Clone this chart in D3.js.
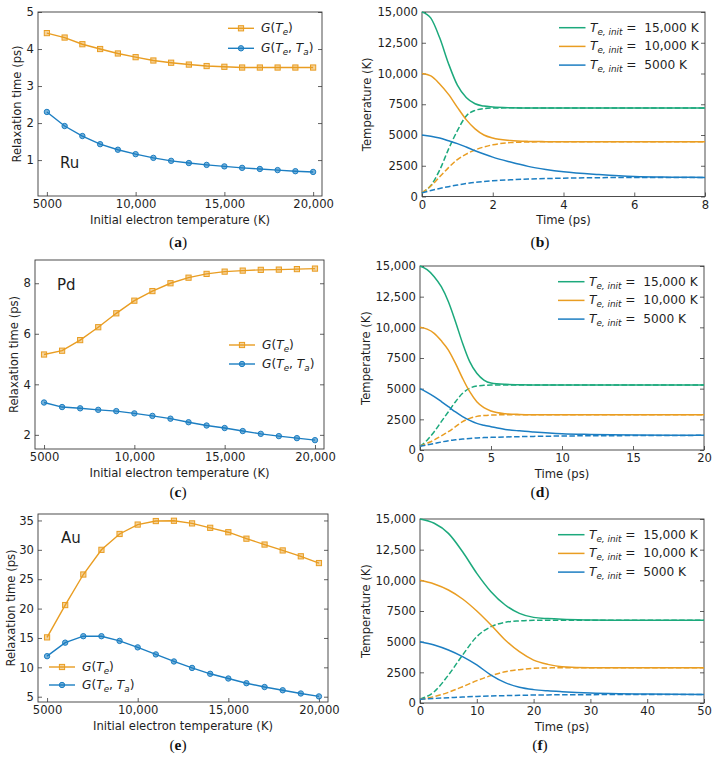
<!DOCTYPE html>
<html>
<head>
<meta charset="utf-8">
<script src="https://cdn.jsdelivr.net/npm/d3@7"></script>
<style>
  html, body { margin: 0; padding: 0; background: #fff; overflow: hidden; }
  svg { display: block; }
</style>
</head>
<body>
<script>
// ---------------- DATA ----------------
const initTemps = [5000, 6000, 7000, 8000, 9000, 10000, 11000, 12000, 13000, 14000, 15000, 16000, 17000, 18000, 19000, 20000];

const ruGTe   = [4.43, 4.31, 4.13, 4.00, 3.88, 3.78, 3.69, 3.63, 3.58, 3.54, 3.52, 3.50, 3.50, 3.50, 3.50, 3.50];
const ruGTeTa = [2.30, 1.92, 1.65, 1.43, 1.28, 1.16, 1.06, 0.98, 0.92, 0.87, 0.83, 0.79, 0.76, 0.73, 0.70, 0.68];
const pdGTe   = [5.18, 5.33, 5.75, 6.26, 6.81, 7.31, 7.69, 8.00, 8.22, 8.37, 8.46, 8.50, 8.53, 8.54, 8.56, 8.58];
const pdGTeTa = [3.28, 3.10, 3.05, 2.99, 2.94, 2.85, 2.75, 2.64, 2.50, 2.37, 2.27, 2.15, 2.04, 1.95, 1.87, 1.79];
const auGTe   = [15.1, 20.6, 25.8, 30.0, 32.7, 34.3, 34.9, 34.95, 34.5, 33.75, 33.0, 31.9, 30.9, 29.9, 28.9, 27.75];
const auGTeTa = [11.9, 14.2, 15.3, 15.3, 14.5, 13.4, 12.2, 11.0, 9.9, 8.9, 8.1, 7.3, 6.65, 6.1, 5.55, 5.05];

// Ru temperature evolution (panel b)
const ruTime    = [0, 0.25, 0.5, 0.75, 1, 1.25, 1.5, 1.75, 2, 2.5, 3, 3.5, 4, 5, 6, 7, 8];
const ruTe15000 = [15000, 14500, 12900, 10800, 9050, 8050, 7540, 7350, 7280, 7220, 7200, 7200, 7200, 7200, 7200, 7200, 7200];
const ruTa15000 = [300, 900, 2150, 3850, 5350, 6550, 7000, 7150, 7190, 7210, 7200, 7200, 7200, 7200, 7200, 7200, 7200];
const ruTe10000 = [10000, 9800, 9150, 8300, 7250, 6250, 5500, 5000, 4750, 4550, 4480, 4460, 4450, 4450, 4450, 4450, 4450];
const ruTa10000 = [300, 850, 1600, 2350, 3000, 3450, 3780, 4030, 4200, 4380, 4430, 4450, 4450, 4450, 4450, 4450, 4450];
const ruTe5000  = [5000, 4900, 4750, 4530, 4300, 4020, 3720, 3450, 3200, 2800, 2450, 2200, 2010, 1780, 1620, 1570, 1550];
const ruTa5000  = [300, 480, 650, 800, 930, 1050, 1150, 1220, 1280, 1360, 1420, 1460, 1490, 1530, 1545, 1550, 1555];

// Pd temperature evolution (panel d)
const pdTime    = [0, 0.5, 1, 1.5, 2, 2.5, 3, 3.5, 4, 4.5, 5, 6, 7, 8, 10, 12, 15, 20];
const pdTe15000 = [15000, 14700, 14130, 13310, 12090, 10460, 8700, 7200, 6250, 5700, 5460, 5350, 5320, 5300, 5300, 5300, 5300, 5300];
const pdTa15000 = [300, 800, 1490, 2310, 3120, 3940, 4620, 5030, 5220, 5270, 5300, 5300, 5300, 5300, 5300, 5300, 5300, 5300];
const pdTe10000 = [10000, 9850, 9510, 8900, 8150, 7060, 5840, 4750, 3940, 3450, 3180, 2960, 2900, 2880, 2870, 2870, 2870, 2870];
const pdTa10000 = [300, 550, 815, 1150, 1490, 1900, 2310, 2580, 2740, 2810, 2850, 2870, 2870, 2870, 2870, 2870, 2870, 2870];
const pdTe5000  = [5000, 4700, 4350, 3950, 3530, 3100, 2720, 2420, 2170, 2020, 1900, 1680, 1560, 1470, 1330, 1270, 1220, 1200];
const pdTa5000  = [300, 420, 530, 650, 760, 830, 890, 940, 980, 1010, 1030, 1060, 1090, 1110, 1140, 1160, 1175, 1195];

// Au temperature evolution (panel f)
const auTime    = [0, 2.5, 5, 7.5, 10, 12.5, 15, 17.5, 20, 22.5, 25, 30, 35, 40, 50];
const auTe15000 = [15000, 14650, 13830, 12330, 10570, 9075, 7990, 7310, 6980, 6880, 6820, 6770, 6750, 6750, 6750];
const auTa15000 = [300, 920, 2280, 3910, 5410, 6220, 6580, 6690, 6740, 6750, 6750, 6750, 6750, 6750, 6750];
const auTe10000 = [10000, 9700, 9210, 8480, 7500, 6360, 5135, 4180, 3500, 3150, 2960, 2880, 2880, 2880, 2880];
const auTa10000 = [300, 520, 870, 1330, 1820, 2230, 2550, 2720, 2830, 2860, 2880, 2880, 2880, 2880, 2880];
const auTe5000  = [5000, 4730, 4320, 3780, 3100, 2280, 1660, 1280, 1090, 990, 920, 815, 760, 730, 700];
const auTa5000  = [300, 370, 430, 490, 540, 570, 600, 625, 650, 660, 670, 680, 690, 695, 700];

// Tick values and labels
const initTempTicks = [5000, 10000, 15000, 20000];
const ruRelaxTicks  = [1, 2, 3, 4, 5];
const pdRelaxTicks  = [2, 4, 6, 8];
const auRelaxTicks  = [5, 10, 15, 20, 25, 30, 35];
const tempTicks     = [0, 2500, 5000, 7500, 10000, 12500, 15000];
const ruTimeTicks   = [0, 2, 4, 6, 8];
const pdTimeTicks   = [0, 5, 10, 15, 20];
const auTimeTicks   = [0, 10, 20, 30, 40, 50];
const initLabels    = ["15,000", "10,000", "5000"];
const elements      = ["Ru", "Pd", "Au"];
const panelLetters  = ["a", "b", "c", "d", "e", "f"];

// ---------------- STYLE ----------------
const C_ORANGE = "#E99D22";
const C_BLUE   = "#1C7EC2";
const C_GREEN  = "#1CA97C";
const FONT = "'DejaVu Sans', sans-serif";
const FS = 11.6;
const LFS = 12.2;

const fmtNum = d => (Math.abs(d) >= 10000 ? d3.format(",")(d) : d3.format("d")(d));
const fmtRelax = d => d3.format("d")(d);

const svg = d3.select("body").append("svg")
  .attr("width", 716).attr("height", 764)
  .style("background", "#fff");

function styleAxis(sel) {
  sel.select(".domain").remove();
  sel.selectAll(".tick line").attr("stroke", "#3a3a3a").attr("stroke-width", 0.8);
  sel.selectAll(".tick text").attr("font-family", FONT).attr("font-size", FS).attr("fill", "#1e1e1e");
}

function frame(p) {
  const x = d3.scaleLinear().domain(p.xd).range([p.x0, p.x1]);
  const y = d3.scaleLinear().domain(p.yd).range([p.y1, p.y0]);
  const g = svg.append("g");
  g.append("g").attr("transform", `translate(0,${p.y1})`)
    .call(d3.axisBottom(x).tickValues(p.xt).tickFormat(fmtNum).tickSizeInner(-4).tickSizeOuter(0).tickPadding(4))
    .call(styleAxis);
  g.append("g").attr("transform", `translate(${p.x0},0)`)
    .call(d3.axisLeft(y).tickValues(p.yt).tickFormat(p.yf).tickSizeInner(-4).tickSizeOuter(0).tickPadding(4))
    .call(styleAxis);
  g.append("g").attr("transform", `translate(${p.x1},0)`)
    .call(d3.axisRight(y).tickValues(p.yt).tickFormat(() => "").tickSizeInner(-4).tickSizeOuter(0))
    .call(styleAxis);
  g.append("rect")
    .attr("x", p.x0).attr("y", p.y0)
    .attr("width", p.x1 - p.x0).attr("height", p.y1 - p.y0)
    .attr("fill", "none").attr("stroke", "#3a3a3a").attr("stroke-width", 0.9);
  // axis titles
  g.append("text")
    .attr("x", (p.x0 + p.x1) / 2).attr("y", p.y1 + 27.5)
    .attr("text-anchor", "middle").attr("font-family", FONT).attr("font-size", FS).attr("fill", "#1e1e1e")
    .text(p.xTitle);
  g.append("text")
    .attr("transform", `translate(${p.yTitleX},${(p.y0 + p.y1) / 2}) rotate(-90)`)
    .attr("dy", "0.35em")
    .attr("text-anchor", "middle").attr("font-family", FONT).attr("font-size", FS).attr("fill", "#1e1e1e")
    .text(p.yTitle);
  // panel letter
  const lt = svg.append("text")
    .attr("x", p.letterX).attr("y", p.letterY)
    .attr("text-anchor", "middle").attr("font-family", "'Liberation Serif', 'DejaVu Serif', serif")
    .attr("font-size", 15.5).attr("fill", "#111");
  lt.append("tspan").text("(");
  lt.append("tspan").attr("font-weight", "bold").text(p.letter);
  lt.append("tspan").text(")");
  return { g, x, y };
}

function gLabel(sel, withTa) {
  sel.append("tspan").attr("font-style", "italic").text("G");
  sel.append("tspan").text("(");
  sel.append("tspan").attr("font-style", "italic").text("T");
  sel.append("tspan").attr("font-style", "italic").attr("font-size", 8.8).attr("dy", 3).text("e");
  if (withTa) {
    sel.append("tspan").attr("dy", -3).text(", ");
    sel.append("tspan").attr("font-style", "italic").text("T");
    sel.append("tspan").attr("font-style", "italic").attr("font-size", 8.8).attr("dy", 3).text("a");
  }
  sel.append("tspan").attr("dy", -3).text(")");
}

function marker(g, type, cx, cy, color) {
  if (type === "square") {
    g.append("rect").attr("x", cx - 2.6).attr("y", cy - 2.6).attr("width", 5.2).attr("height", 5.2)
      .attr("fill", color).attr("fill-opacity", 0.45).attr("stroke", color).attr("stroke-width", 1);
  } else {
    g.append("circle").attr("cx", cx).attr("cy", cy).attr("r", 2.7)
      .attr("fill", color).attr("fill-opacity", 0.6).attr("stroke", color).attr("stroke-width", 1);
  }
}

function relaxPanel(p, gTe, gTeTa, elem) {
  const { g, x, y } = frame(p);
  const line = d3.line().x((d, i) => x(initTemps[i])).y(d => y(d));
  [[gTe, C_ORANGE, "square"], [gTeTa, C_BLUE, "circle"]].forEach(([vals, color, type]) => {
    g.append("path").attr("d", line(vals)).attr("fill", "none")
      .attr("stroke", color).attr("stroke-width", 1.4);
    vals.forEach((v, i) => marker(g, type, x(initTemps[i]), y(v), color));
  });
  g.append("text").attr("x", p.elemX).attr("y", p.elemY)
    .attr("font-family", FONT).attr("font-size", 15).attr("fill", "#1e1e1e").text(elem);
  // legend
  const items = [[C_ORANGE, "square", false], [C_BLUE, "circle", true]];
  items.forEach(([color, type, ta], i) => {
    const ly = p.legY[i];
    g.append("line").attr("x1", p.legX).attr("x2", p.legX + 26).attr("y1", ly).attr("y2", ly)
      .attr("stroke", color).attr("stroke-width", 1.4);
    marker(g, type, p.legX + 13, ly, color);
    const t = g.append("text").attr("x", p.legX + 33).attr("y", ly + 4)
      .attr("font-family", FONT).attr("font-size", LFS).attr("fill", "#1e1e1e");
    gLabel(t, ta);
  });
}

function tempPanel(p, time, series) {
  const { g, x, y } = frame(p);
  const colors = [C_GREEN, C_ORANGE, C_BLUE];
  const line = d3.line().x((d, i) => x(time[i])).y(d => y(d)).curve(d3.curveMonotoneX);
  series.forEach(([te, ta], k) => {
    g.append("path").attr("d", line(ta)).attr("fill", "none")
      .attr("stroke", colors[k]).attr("stroke-width", 1.5).attr("stroke-dasharray", "5.5,2.4");
    g.append("path").attr("d", line(te)).attr("fill", "none")
      .attr("stroke", colors[k]).attr("stroke-width", 1.5);
  });
  // legend
  initLabels.forEach((lab, k) => {
    const ly = p.y0 + 15.7 + k * 18.7;
    const lx = p.x1 - 146;
    g.append("line").attr("x1", lx).attr("x2", lx + 26.5).attr("y1", ly).attr("y2", ly)
      .attr("stroke", colors[k]).attr("stroke-width", 1.5);
    const t = g.append("text").attr("x", lx + 31).attr("y", ly + 4)
      .attr("font-family", FONT).attr("font-size", LFS).attr("fill", "#1e1e1e");
    t.append("tspan").attr("font-style", "italic").text("T");
    t.append("tspan").attr("font-style", "italic").attr("font-size", 8.8).attr("dy", 3).text("e, init");
    t.append("tspan").attr("dy", -3).text(" =\u00A0\u00A0" + lab + " K");
  });
}

const relaxTitle = "Relaxation time (ps)";
const initTitle = "Initial electron temperature (K)";

relaxPanel({ x0: 38, x1: 322, y0: 12, y1: 196, xd: [4500, 20500], yd: [0.03, 5],
  xt: initTempTicks, yt: ruRelaxTicks, yf: fmtRelax, xTitle: initTitle, yTitle: relaxTitle, yTitleX: 17,
  letter: panelLetters[0], letterX: 178, letterY: 247,
  elemX: 60, elemY: 168, legX: 228, legY: [28.3, 48.3] }, ruGTe, ruGTeTa, elements[0]);

relaxPanel({ x0: 35, x1: 324, y0: 260, y1: 449, xd: [4500, 20500], yd: [1.44, 8.92],
  xt: initTempTicks, yt: pdRelaxTicks, yf: fmtRelax, xTitle: initTitle, yTitle: relaxTitle, yTitleX: 13.5,
  letter: panelLetters[2], letterX: 178, letterY: 497,
  elemX: 57, elemY: 290, legX: 229, legY: [345, 364] }, pdGTe, pdGTeTa, elements[1]);

relaxPanel({ x0: 38, x1: 328, y0: 514, y1: 702, xd: [4500, 20500], yd: [4.1, 36.1],
  xt: initTempTicks, yt: auRelaxTicks, yf: fmtRelax, xTitle: initTitle, yTitle: relaxTitle, yTitleX: 11,
  letter: panelLetters[4], letterX: 178, letterY: 750,
  elemX: 61, elemY: 543, legX: 49, legY: [667, 685] }, auGTe, auGTeTa, elements[2]);

tempPanel({ x0: 422, x1: 705, y0: 12, y1: 196.5, xd: [0, 8], yd: [0, 15000],
  xt: ruTimeTicks, yt: tempTicks, yf: fmtNum, xTitle: "Time (ps)", yTitle: "Temperature (K)", yTitleX: 367,
  letter: panelLetters[1], letterX: 540, letterY: 247 }, ruTime,
  [[ruTe15000, ruTa15000], [ruTe10000, ruTa10000], [ruTe5000, ruTa5000]]);

tempPanel({ x0: 420, x1: 704, y0: 266, y1: 450, xd: [0, 20], yd: [0, 15000],
  xt: pdTimeTicks, yt: tempTicks, yf: fmtNum, xTitle: "Time (ps)", yTitle: "Temperature (K)", yTitleX: 366,
  letter: panelLetters[3], letterX: 540, letterY: 497 }, pdTime,
  [[pdTe15000, pdTa15000], [pdTe10000, pdTa10000], [pdTe5000, pdTa5000]]);

tempPanel({ x0: 420, x1: 704, y0: 519, y1: 703, xd: [0, 50], yd: [0, 15000],
  xt: auTimeTicks, yt: tempTicks, yf: fmtNum, xTitle: "Time (ps)", yTitle: "Temperature (K)", yTitleX: 366,
  letter: panelLetters[5], letterX: 540, letterY: 750 }, auTime,
  [[auTe15000, auTa15000], [auTe10000, auTa10000], [auTe5000, auTa5000]]);
</script>
</body>
</html>
